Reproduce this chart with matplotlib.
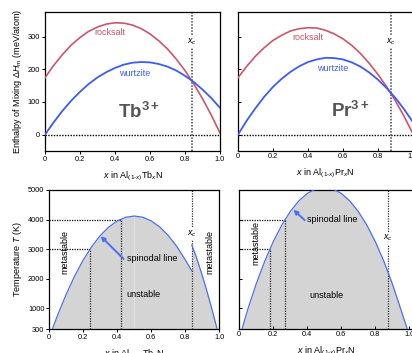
import matplotlib

matplotlib.use("Agg")
import matplotlib.pyplot as plt

plt.rcParams["font.family"] = ["Liberation Sans", "DejaVu Sans"]
plt.rcParams["mathtext.fontset"] = "custom"
plt.rcParams["mathtext.rm"] = "Liberation Sans"
plt.rcParams["mathtext.it"] = "Liberation Sans:italic"
plt.rcParams["mathtext.bf"] = "Liberation Sans:bold"

# --- top row: enthalpy of mixing (meV/atom) vs x ---
x_frac = [0.00, 0.05, 0.10, 0.15, 0.20, 0.25, 0.30, 0.35, 0.40, 0.45, 0.50,
          0.55, 0.60, 0.65, 0.70, 0.75, 0.80, 0.85, 0.90, 0.95, 1.00]
tb_rocksalt = [174, 212, 245, 274, 297, 316, 329, 338, 342, 341, 335,
               324, 308, 287, 262, 231, 196, 155, 110, 60, 5]
tb_wurtzite = [0, 38, 73, 104, 131, 155, 175, 191, 204, 214, 220,
               222, 221, 216, 208, 196, 180, 161, 138, 112, 82]
pr_rocksalt = [174, 209, 240, 266, 288, 304, 317, 324, 327, 326, 319,
               308, 293, 273, 248, 218, 184, 146, 103, 55, 2]
pr_wurtzite = [0, 43, 81, 116, 146, 171, 192, 209, 222, 230, 235,
               234, 230, 221, 208, 190, 168, 142, 112, 77, 38]
tb_xc = 0.838
pr_xc = 0.877

# --- bottom row: spinodal temperature (K) vs x ---
tb_spin_x_left = [0.018, 0.05, 0.10, 0.15, 0.20, 0.25, 0.30, 0.35, 0.40, 0.45,
                  0.50, 0.55, 0.60, 0.65, 0.70, 0.75, 0.80, 0.838]
tb_spin_T_left = [300, 783, 1483, 2101, 2637, 3090, 3461, 3749, 3955, 4079,
                  4120, 4079, 3955, 3749, 3461, 3090, 2637, 2270]
tb_spin_x_right = [0.838, 0.86, 0.88, 0.90, 0.92, 0.94, 0.96, 0.987]
tb_spin_T_right = [3140, 2813, 2467, 2103, 1720, 1318, 897, 300]
pr_spin_x = [0.016, 0.05, 0.10, 0.15, 0.20, 0.25, 0.30, 0.35, 0.40, 0.45, 0.50,
             0.55, 0.60, 0.65, 0.70, 0.75, 0.80, 0.85, 0.90, 0.95, 0.988]
pr_spin_T = [300, 967, 1832, 2595, 3256, 3816, 4274, 4630, 4884, 5037, 5088,
             5037, 4884, 4630, 4274, 3816, 3256, 2595, 1832, 967, 300]
T_marks = [3000, 4000]
tb_x_marks = [0.24, 0.42]
pr_x_marks = [0.18, 0.27]

RED = "#cd5569"
BLUE = "#3b5cf4"
SPIN = "#4a70ee"
FILL = "#d4d4d4"
TICK_FS = 5.3
LAB_FS = 6.5
T_MIN, T_MAX = 300, 5000

W, H = 412, 353
fig = plt.figure(figsize=(W / 100, H / 100), dpi=100)


def px_axes(left, top, width, height):
    return fig.add_axes([left / W, (H - top - height) / H, width / W, height / H])


def style_axes(ax, direction, labels_left=True):
    for s in ax.spines.values():
        s.set_linewidth(0.9)
    ax.tick_params(direction=direction, length=2, width=0.7, labelsize=TICK_FS, pad=1.5,
                   labelleft=labels_left)
    ax.set_xticks([0, 0.2, 0.4, 0.6, 0.8, 1.0])
    ax.set_xticklabels(["0", "0.2", "0.4", "0.6", "0.8", "1.0"])


def enthalpy_panel(ax, rock, wurtz, xc, ion, rock_pos, wurtz_pos, ion_pos, xlabel, first):
    ax.set_xlim(0, 1)
    ax.set_ylim(-50, 375)
    ax.axhline(0, color="black", lw=1.0, ls=(0, (1, 1)), zorder=1)
    ax.axvline(xc, color="#444444", lw=1.1, ls=(0, (1, 1)), zorder=1)
    ax.plot(x_frac, rock, color=RED, lw=1.2, zorder=3)
    ax.plot(x_frac, wurtz, color=BLUE, lw=1.3, zorder=3)
    ax.text(*rock_pos, "rocksalt", color=RED, fontsize=LAB_FS, ha="center", va="center")
    ax.text(*wurtz_pos, "wurtzite", color=BLUE, fontsize=LAB_FS, ha="center", va="center")
    ax.text(*ion_pos, ion, color="#555555", fontsize=13.5, ha="left", va="baseline")
    ax.text(xc, 285, r"$x_c$", fontsize=LAB_FS, ha="center", va="center",
            bbox=dict(facecolor="white", edgecolor="none", pad=0.8), zorder=4)
    ax.set_yticks([0, 100, 200, 300])
    style_axes(ax, "out" if first else "in", labels_left=first)
    ax.set_xlabel(xlabel, fontsize=LAB_FS, labelpad=5)
    if first:
        ax.set_ylabel(r"Enthalpy of Mixing $\Delta H_{\rm m}$ (meV/atom)", fontsize=LAB_FS, labelpad=3)


def spinodal_panel(ax, branches, x_marks, xc, xc_T, xlim, xlabel, first):
    ax.set_xlim(*xlim)
    ax.set_ylim(T_MIN, T_MAX)
    for bx, bT in branches:
        ax.fill_between(bx, T_MIN, bT, color=FILL, lw=0, zorder=1)
        ax.plot(bx, bT, color=SPIN, lw=0.9, zorder=3)
    for xm, Tm in zip(x_marks, T_marks):
        ax.plot([0, xm], [Tm, Tm], color="black", lw=0.9, ls=(0, (1, 1)), zorder=2)
        ax.plot([xm, xm], [T_MIN, Tm], color="#222222", lw=0.9, ls=(0, (1, 1)), zorder=2)
    ax.axvline(xc, color="#333333", lw=0.9, ls=(0, (1, 1)), zorder=2)
    ax.text(xc, xc_T, r"$x_c$", fontsize=LAB_FS, ha="center", va="center",
            bbox=dict(facecolor="white", edgecolor="none", pad=0.8), zorder=4)
    ax.set_yticks([300, 1000, 2000, 3000, 4000, 5000])
    style_axes(ax, "out" if first else "in", labels_left=first)
    ax.set_xlabel(xlabel, fontsize=LAB_FS, labelpad=5)
    if first:
        ax.set_ylabel(r"Temperature $T$ (K)", fontsize=LAB_FS, labelpad=3)


# top-left: Tb
ax1 = px_axes(45, 12, 175, 139)
enthalpy_panel(ax1, tb_rocksalt, tb_wurtzite, tb_xc, r"$\mathbf{Tb^{3+}}$",
               (0.37, 312), (0.51, 187), (0.42, 52),
               r"$x$ in Al$_{(1\text{-}x)}$Tb$_x$N", True)

# top-right: Pr
ax2 = px_axes(238, 12, 175, 139)
enthalpy_panel(ax2, pr_rocksalt, pr_wurtzite, pr_xc, r"$\mathbf{Pr^{3+}}$",
               (0.40, 297), (0.54, 201), (0.53, 54),
               r"$x$ in Al$_{(1\text{-}x)}$Pr$_x$N", False)

# bottom-left: Tb spinodal
ax3 = px_axes(49.3, 190, 170, 139)
spinodal_panel(ax3, [(tb_spin_x_left, tb_spin_T_left), (tb_spin_x_right, tb_spin_T_right)],
               tb_x_marks, tb_xc, 3535, (0, 1), r"$x$ in Al$_{(1\text{-}x)}$Tb$_x$N", True)
ax3.vlines(0.5, T_MIN, max(tb_spin_T_left), color="#ececec", lw=0.4, zorder=1.5)
ax3.text(0.09, 2900, "metastable", rotation=90, fontsize=LAB_FS, ha="center", va="center")
ax3.text(0.945, 2900, "metastable", rotation=90, fontsize=LAB_FS, ha="center", va="center")
ax3.annotate("", xy=(0.302, 3440), xytext=(0.437, 2670),
             arrowprops=dict(arrowstyle="-|>", color=SPIN, lw=1.4, mutation_scale=6,
                             shrinkA=0, shrinkB=0), zorder=4)
ax3.text(0.455, 2670, "spinodal line", fontsize=LAB_FS, ha="left", va="center")
ax3.text(0.553, 1470, "unstable", fontsize=LAB_FS, ha="center", va="center")

# bottom-right: Pr spinodal
ax4 = px_axes(239.3, 190, 170 * 1.025, 139)
spinodal_panel(ax4, [(pr_spin_x, pr_spin_T)], pr_x_marks, pr_xc, 3370, (0, 1.025),
               r"$x$ in Al$_{(1\text{-}x)}$Pr$_x$N", False)
ax4.text(0.098, 3200, "metastable", rotation=90, fontsize=LAB_FS, ha="center", va="center")
ax4.annotate("", xy=(0.318, 4330), xytext=(0.385, 3980),
             arrowprops=dict(arrowstyle="-|>", color=SPIN, lw=1.4, mutation_scale=6,
                             shrinkA=0, shrinkB=0), zorder=4)
ax4.text(0.396, 4010, "spinodal line", fontsize=LAB_FS, ha="left", va="center")
ax4.text(0.51, 1440, "unstable", fontsize=LAB_FS, ha="center", va="center")

fig.savefig("out.png", dpi=100)
